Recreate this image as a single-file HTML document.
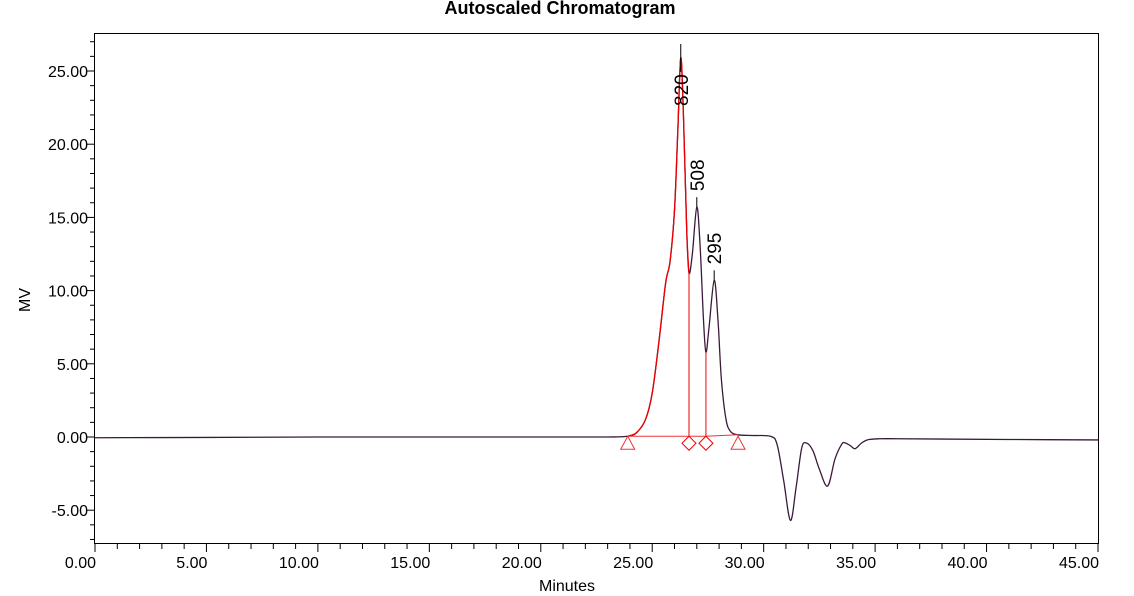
<!DOCTYPE html>
<html><head><meta charset="utf-8"><style>
html,body{margin:0;padding:0;background:#fff;}
svg{display:block;font-family:"Liberation Sans",Arial,sans-serif;}
</style></head><body>
<svg id="chart" width="1134" height="596">
<text x="560" y="14" text-anchor="middle" font-size="18" font-weight="bold">Autoscaled Chromatogram</text>
<text x="30" y="300" text-anchor="middle" font-size="16" transform="rotate(-90 30 300)">MV</text>
<text x="567" y="591" text-anchor="middle" font-size="16">Minutes</text>
<rect x="94.5" y="33.5" width="1004" height="510" fill="none" stroke="#000" stroke-width="1"/>
<g id="axes"></g>
<g id="marks"></g>
</svg>
<script>
const times=[0,5,10,15,20,23,23.9,24.3,24.7,25.0,25.3,25.6,25.8,26.0,26.15,26.28,26.4,26.55,26.65,26.8,27.0,27.15,27.3,27.41,27.55,27.78,27.95,28.1,28.3,28.5,28.85,29.5,30.3,30.6,30.9,31.2,31.45,31.7,31.9,32.2,32.5,32.87,33.2,33.5,33.65,33.9,34.1,34.4,34.7,35.2,36,38,41,45];
const values=[-0.05,-0.03,0,0,0,0,0.05,0.3,1.2,3.0,6.5,10.5,12.0,15.5,21,25.9,22,14,11.2,12.5,15.7,13,8,5.8,7.5,10.7,8,4,1.3,0.4,0.15,0.1,0.05,-0.5,-3,-5.7,-3.5,-0.8,-0.4,-0.9,-2.2,-3.35,-1.5,-0.5,-0.4,-0.6,-0.8,-0.4,-0.18,-0.12,-0.12,-0.14,-0.17,-0.2];
const xTicks=[0,5,10,15,20,25,30,35,40,45];
const yTicks=[-5,0,5,10,15,20,25];
const peakTimes=[26.28,27.0,27.78];
const peakHeights=[25.9,15.7,10.7];
const peakLabels=["820","508","295"];
const valleyTimes=[26.65,27.41];
const valleyValues=[11.2,5.8];
const startEnd=[23.9,28.85];

const NS="http://www.w3.org/2000/svg";
const X=t=>95+t*(1098-95)/45;
const Y=v=>437-v*14.64;
function mk(tag,attrs,parent){const e=document.createElementNS(NS,tag);for(const k in attrs)e.setAttribute(k,attrs[k]);parent.appendChild(e);return e;}
const axes=document.getElementById('axes'),marks=document.getElementById('marks');
for(let t=0;t<=45;t++){const major=t%5===0;
 const l=mk('line',{x1:X(t),x2:X(t),y1:544,y2:major?552:549,stroke:'#000'},axes);
 
 }
xTicks.forEach(t=>{const tx=mk('text',{x:X(t)+1,y:568,'text-anchor':'end','font-size':16},axes);tx.textContent=t.toFixed(2);
 
 });
for(let v=-7;v<=27;v++){const major=v%5===0;
 const l=mk('line',{x1:major?86:90,x2:94,y1:Y(v),y2:Y(v),stroke:'#000'},axes);
 
 }
yTicks.forEach(v=>{const tx=mk('text',{x:88,y:Y(v)+6,'text-anchor':'end','font-size':16},axes);tx.textContent=v.toFixed(2);
 
 });
function pathFor(ts,vs){const p=ts.map((t,i)=>[X(t),Y(vs[i])]);let d='M'+p[0][0]+','+p[0][1];
 for(let i=0;i<p.length-1;i++){const p0=p[i-1]||p[i],p1=p[i],p2=p[i+1],p3=p[i+2]||p2;
  const c1=[p1[0]+(p2[0]-p0[0])/6,p1[1]+(p2[1]-p0[1])/6],c2=[p2[0]-(p3[0]-p1[0])/6,p2[1]-(p3[1]-p1[1])/6];
  d+=` C${c1[0]},${c1[1]} ${c2[0]},${c2[1]} ${p2[0]},${p2[1]}`;}return d;}
const trace=mk('path',{d:pathFor(times,values),fill:'none',stroke:'#3a1a3a','stroke-width':1.3},marks);


const i0=times.indexOf(startEnd[0]),i1=times.indexOf(valleyTimes[0]);
const red=mk('path',{d:pathFor(times.slice(i0,i1+1),values.slice(i0,i1+1)),fill:'none',stroke:'#e00','stroke-width':1.3},marks);


const bl=mk('polyline',{points:`${X(startEnd[0])},${Y(0.05)} ${X(valleyTimes[1])},${Y(0.05)} ${X(startEnd[1])},${Y(0.15)}`,fill:'none',stroke:'#e33'},marks);


valleyTimes.forEach((t,i)=>{const x=X(t);
 const l=mk('line',{x1:x,x2:x,y1:Y(valleyValues[i]),y2:Y(0.05),stroke:'#e00'},marks);
 
 
 const dm=mk('polygon',{points:`${x},${Y(0.05)} ${x+7},${Y(0.05)+7} ${x},${Y(0.05)+14} ${x-7},${Y(0.05)+7}`,fill:'none',stroke:'#e00'},marks);
 
 });
startEnd.forEach(t=>{const x=X(t),y=Y(0.05);
 const tr=mk('polygon',{points:`${x},${y} ${x+7},${y+13} ${x-7},${y+13}`,fill:'none',stroke:'#e33'},marks);
 
 });
peakTimes.forEach((t,i)=>{const x=X(t),y=Y(peakHeights[i]);
 const top=i===0?44:y-10;
 const l=mk('line',{x1:x,x2:x,y1:top,y2:y+(i===0?14:0),stroke:'#000'},marks);
 
 
 const ly=i===0?106:y-16, lx=x+7;
 const tx=mk('text',{x:lx,y:ly,'font-size':19,transform:`rotate(-90 ${lx} ${ly})`},marks);
 tx.textContent=peakLabels[i];
 
 });
</script>
</body></html>
